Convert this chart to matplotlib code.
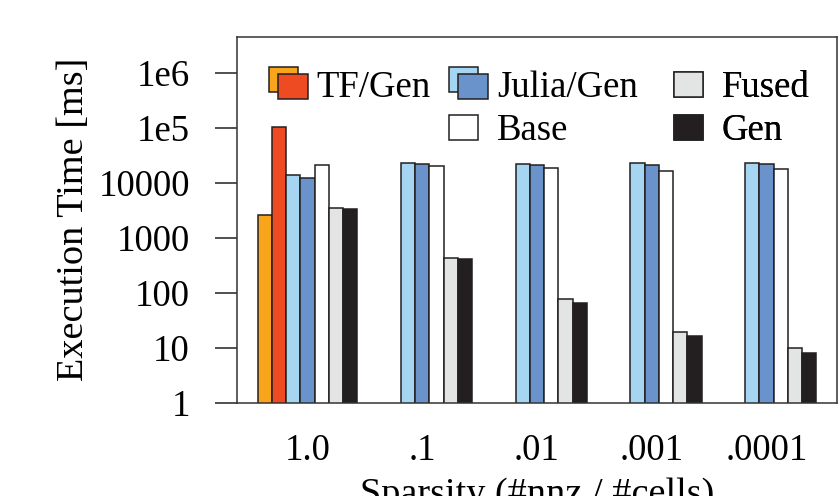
import numpy as np
import matplotlib
matplotlib.use('Agg')
import matplotlib.pyplot as plt
from matplotlib.patches import Rectangle
from matplotlib.legend_handler import HandlerBase

plt.rcParams['font.family'] = 'serif'
plt.rcParams['font.serif'] = ['Liberation Serif', 'DejaVu Serif']

# data (ms)
sparsity = ['1.0', '.1', '.01', '.001', '.0001']
tf_base = [2600, np.nan, np.nan, np.nan, np.nan]
tf_gen = [105000, np.nan, np.nan, np.nan, np.nan]
julia_base = [14200, 23500, 22000, 23000, 23000]
julia_gen = [12200, 22300, 21400, 21600, 22300]
base = [21100, 20500, 19000, 16800, 17800]
fused = [3470, 438, 78, 19.4, 9.8]
gen = [3350, 414, 65, 16.6, 8.1]

ytick_vals = [1, 10, 100, 1000, 10000, 1e5, 1e6]
ytick_labels = ['1', '10', '100', '1000', '10000', '1e5', '1e6']

c_orange = '#f9a51b'
c_red = '#ee4b23'
c_lblue = '#a5d5f1'
c_blue = '#6b93cb'
c_white = '#ffffff'
c_gray = '#e3e5e4'
c_black = '#231f20'
edge = '#231f20'

series = [tf_base, tf_gen, julia_base, julia_gen, base, fused, gen]
colors = [c_orange, c_red, c_lblue, c_blue, c_white, c_gray, c_black]

fs = 26.5

fig = plt.figure(figsize=(8.38, 4.96), dpi=100)
ax = fig.add_axes([237 / 838, 1 - 402.7 / 496, 600 / 838, (402.7 - 36.7) / 496])

x = np.arange(len(sparsity))
w = 0.124
for i, (vals, c) in enumerate(zip(series, colors)):
    ax.bar(x + (i - 3) * w, vals, w, color=c, edgecolor=edge, linewidth=1.1, zorder=2)

ax.set_yscale('log')
ax.set_ylim(1, 4.6e6)
ax.set_xlim(-0.615, 4.615)
ax.yaxis.set_major_locator(matplotlib.ticker.FixedLocator(ytick_vals))
ax.yaxis.set_minor_locator(matplotlib.ticker.NullLocator())
ax.set_yticklabels(ytick_labels)
ax.set_xticks(x)
ax.set_xticklabels(sparsity)
ax.tick_params(axis='y', length=16, width=1.1, labelsize=fs, pad=18, color='#231f20')
ax.tick_params(axis='x', length=0, labelsize=fs, pad=22)
for sp in ax.spines.values():
    sp.set_linewidth(1.1)
    sp.set_color('#333333')
ax.set_ylabel('Execution Time [ms]', fontsize=27.5, labelpad=5)
ax.set_xlabel('Sparsity (#nnz / #cells)', fontsize=27.5, labelpad=7)


# legend: overlapping double squares for TF/Gen and Julia/Gen
class Dual:
    def __init__(self, back, front):
        self.back = back
        self.front = front


class Single:
    def __init__(self, color):
        self.color = color


class SquareHandler(HandlerBase):
    def create_artists(self, legend, orig_handle, xdescent, ydescent,
                       width, height, fontsize, trans):
        sw, sh = 0.8 * fontsize, 0.68 * fontsize
        dx, dy = 0.25 * fontsize, 0.2 * fontsize
        x0, y0 = -xdescent, -ydescent
        if isinstance(orig_handle, Dual):
            r1 = Rectangle((x0, y0 + dy), sw, sh, facecolor=orig_handle.back,
                           edgecolor=edge, linewidth=1.1, transform=trans)
            r2 = Rectangle((x0 + dx, y0), sw, sh, facecolor=orig_handle.front,
                           edgecolor=edge, linewidth=1.1, transform=trans)
            return [r1, r2]
        yc = y0 + height / 2
        r = Rectangle((x0, yc - sh / 2), sw, sh, facecolor=orig_handle.color,
                      edgecolor=edge, linewidth=1.1, transform=trans)
        return [r]


hmap = {Dual: SquareHandler(), Single: SquareHandler()}
leg_kw = dict(loc='upper left', frameon=False, fontsize=fs, borderpad=0,
              borderaxespad=0, handlelength=1.05, handleheight=0.88,
              handletextpad=0.25, labelspacing=0.2, handler_map=hmap,
              bbox_transform=fig.transFigure)

cols = [
    ([Dual(c_orange, c_red)], ['TF/Gen'], 269),
    ([Dual(c_lblue, c_blue), Single(c_white)], ['Julia/Gen', 'Base'], 449),
    ([Single(c_gray), Single(c_black)], ['Fused', 'Gen'], 674),
]
for handles, labels, px in cols:
    leg = ax.legend(handles, labels, bbox_to_anchor=(px / 838, 1 - 69 / 496), **leg_kw)
    ax.add_artist(leg)

fig.savefig('out.png', dpi=100)
